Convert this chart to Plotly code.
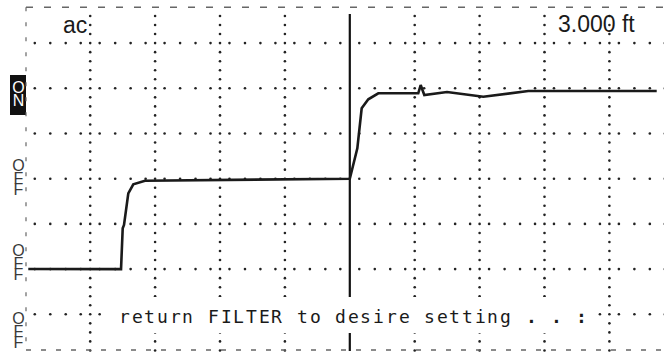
import plotly.graph_objects as go

# ---------------- data (screen divisions) ----------------
sig_x = [0.046, 1.475, 1.501, 1.521, 1.587, 1.664, 1.844, 5.0, 5.116, 5.183, 5.285, 5.439,
         6.055, 6.092, 6.148, 6.498, 7.057, 7.75, 9.729]
sig_y = [2.002, 2.000, 2.903, 2.976, 3.677, 3.876, 3.956, 4.0, 4.673, 5.558, 5.757, 5.889,
         5.889, 6.073, 5.852, 5.918, 5.814, 5.940, 5.940]
cursor_x = 5.0
grid_cols = [1, 2, 3, 4, 6, 7, 8, 9]
grid_rows = [1, 2, 3, 4, 5, 6, 7]
label_left = "ac"
label_right = "3.000 ft"
message = "return FILTER to desire setting . . :"

# ---------------- geometry helpers ----------------
W, H = 664, 354
X0, DX = 25.3, 64.9      # pixel of division 0, pixels per division (x)
Y0, DY = 359.5, 45.2     # pixel of division 0, pixels per division (y)
def X(px): return (px - X0) / DX
def Y(py): return (Y0 - py) / DY

fig = go.Figure()

# dotted grid
dx_list, dy_list = [], []
h_offsets = [0.146, 0.385, 0.623, 0.854]
for r in grid_rows:
    for k in range(0, 10):
        for f in h_offsets:
            dx_list.append(k + f); dy_list.append(r)
for c in grid_cols:
    for m in range(1, 39):
        dx_list.append(c); dy_list.append(m * 0.2)
fig.add_trace(go.Scatter(x=dx_list, y=dy_list, mode="markers",
                         marker=dict(size=2.6, color="#222222"), hoverinfo="skip"))

# borders (dashed)
top_y, bot_y = Y(7.3), Y(350)
fig.add_trace(go.Scatter(x=[X(26), X(W + 5)], y=[top_y, top_y], mode="lines",
                         line=dict(color="#666666", width=1.4, dash="7px,11px"), hoverinfo="skip"))
fig.add_trace(go.Scatter(x=[X(26), X(W + 5)], y=[bot_y, bot_y], mode="lines",
                         line=dict(color="#666666", width=1.4, dash="5px,10px"), hoverinfo="skip"))
fig.add_trace(go.Scatter(x=[X(26), X(26)], y=[top_y, bot_y], mode="lines",
                         line=dict(color="#666666", width=1.2, dash="4px,11px"), hoverinfo="skip"))

# cursor
fig.add_trace(go.Scatter(x=[cursor_x, cursor_x], y=[Y(14), Y(351)], mode="lines",
                         line=dict(color="#111111", width=2.2), hoverinfo="skip"))

# signal
fig.add_trace(go.Scatter(x=sig_x, y=sig_y, mode="lines",
                         line=dict(color="#1a1a1a", width=2.6), hoverinfo="skip"))

# stacked side labels as text traces
def stack(letters, centers, color):
    fig.add_trace(go.Scatter(x=[X(18.5)] * len(letters), y=[Y(c) for c in centers],
                             mode="text", text=list(letters), textposition="middle center",
                             textfont=dict(family="Liberation Sans, Arial", size=16, color=color),
                             hoverinfo="skip"))
stack("ON", [89, 102], "white")
stack("OFF", [166.5, 179.5, 191], "#3a3a3a")
stack("OFF", [252, 264.5, 276], "#3a3a3a")
stack("OFF", [320, 332.5, 344], "#3a3a3a")

shapes = [
    dict(type="rect", x0=X(104), x1=X(592), y0=Y(297), y1=Y(333), layer="above",
         fillcolor="white", line=dict(width=0)),
    dict(type="rect", x0=X(10), x1=X(26), y0=Y(75), y1=Y(115), layer="below",
         fillcolor="#111111", line=dict(width=0)),
]

ann = []
ann.append(dict(x=X(61), y=Y(25), text=label_left, xanchor="left", yanchor="middle",
                showarrow=False, font=dict(family="Liberation Sans, Arial", size=23, color="#1a1a1a")))
ann.append(dict(x=X(637), y=Y(24.3), text=label_right, xanchor="right", yanchor="middle",
                showarrow=False, font=dict(family="Liberation Sans, Arial", size=23, color="#1a1a1a")))

# message, monospaced with fixed pitch
pitch = 12.71
for i, ch in enumerate(message):
    if ch == " ":
        continue
    txt = "<b>" + ch + "</b>" if ch in ".:" else ch
    ann.append(dict(x=X(124.4 + i * pitch), y=Y(316), text=txt, xanchor="center", yanchor="middle",
                    showarrow=False,
                    font=dict(family="DejaVu Sans Mono", size=18, color="#1a1a1a")))

fig.update_layout(
    width=W, height=H, margin=dict(l=0, r=0, t=0, b=0),
    paper_bgcolor="white", plot_bgcolor="white", showlegend=False,
    xaxis=dict(range=[X(0), X(W)], visible=False, fixedrange=True),
    yaxis=dict(range=[Y(H), Y(0)], visible=False, fixedrange=True),
    shapes=shapes, annotations=ann,
)
fig.write_html("out.html", config={"displayModeBar": False, "staticPlot": True},
               post_script="document.body.style.margin='0';document.body.style.overflow='hidden';")
